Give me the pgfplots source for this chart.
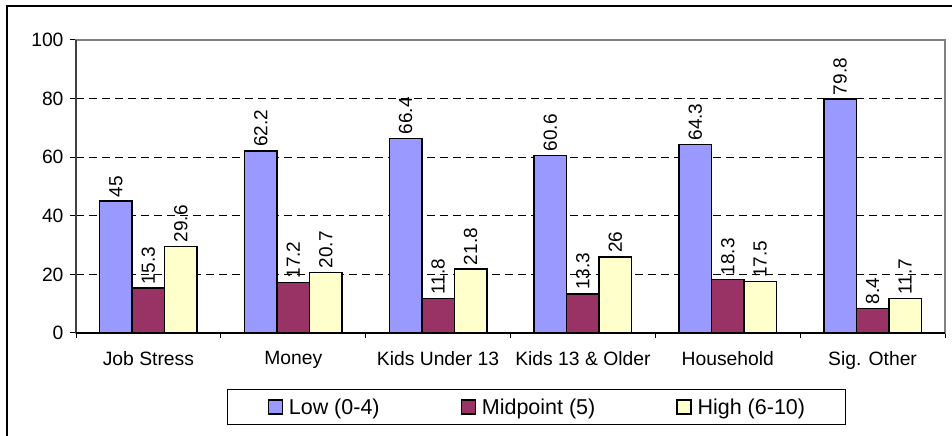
\documentclass[border=0pt]{standalone}
\usepackage{fontspec}
\setmainfont{Liberation Sans}
\usepackage{pgfplots}
\pgfplotsset{compat=1.18}
\definecolor{lowc}{RGB}{153,153,255}
\definecolor{midc}{RGB}{153,51,102}
\definecolor{highc}{RGB}{255,255,204}

\begin{document}
\begin{tikzpicture}
\useasboundingbox (0,0) rectangle (952bp,436bp);
% chart area border (cut off at right and bottom)
\draw[line width=1.5bp] (7bp,-2bp) -- (7bp,430bp) -- (954bp,430bp);
\begin{axis}[
    at={(76bp,103bp)}, anchor=south west,
    scale only axis, width=869bp, height=293bp,
    ybar, bar width=0.2244,
    xmin=-0.5, xmax=5.5, ymin=0, ymax=100,
    xtick={0,...,5},
    xticklabels={Job Stress, Money, Kids Under 13, Kids 13 \& Older, Household, Sig. Other},
    minor xtick={-0.5,0.5,...,5.5},
    ytick={0,20,...,100},
    tick align=outside, xtick pos=bottom, ytick pos=left,
    major tick length=6bp, minor tick length=5bp,
    tick style={black, line width=1bp},
    major x tick style={draw=none},
    ymajorgrids,
    major grid style={black, line width=0.8bp, dash pattern=on 8bp off 5bp},
    axis line style={draw=gray, line width=1.2bp},
    ticklabel style={font=\fontsize{19.3bp}{23bp}\selectfont},
    yticklabel style={xshift=-3bp},
    xticklabel style={yshift=-9bp},
    /pgf/number format/assume math mode=true,
    nodes near coords,
    every node near coord/.append style={rotate=90, anchor=west, black,
        font=\fontsize{19bp}{22bp}\selectfont},
    legend columns=3,
    legend style={at={(0.5298,-0.2526)}, anchor=center, draw=black,
        line width=1.2bp, font=\fontsize{21.5bp}{25bp}\selectfont,
        inner xsep=40bp, inner ysep=9bp,
        nodes={inner sep=0pt}, cells={anchor=west},
        /tikz/every odd column/.style={column sep=6bp},
        /tikz/every even column/.style={column sep=81bp}},
    legend image code/.code={
        \draw[#1, draw=black, line width=1.2bp] (0bp,-7bp) rectangle (14bp,7bp);},
    after end axis/.code={
        \draw[gray, line width=1.2bp] (rel axis cs:0,1) -- (rel axis cs:1,1) -- (rel axis cs:1,0);
        \draw[black!75, line width=1.2bp] (rel axis cs:0,0) -- (rel axis cs:0,1);
        \draw[black, line width=1.3bp] (rel axis cs:0,0) -- (rel axis cs:1,0);
    },
]
\addplot[fill=lowc, draw=black, line width=1.5bp, bar shift=-0.2244] coordinates {
  (0,45) (1,62.2) (2,66.4) (3,60.6) (4,64.3) (5,79.8)
};
\addlegendentry{Low (0-4)}
\addplot[fill=midc, draw=black, line width=1.5bp, bar shift=0] coordinates {
  (0,15.3) (1,17.2) (2,11.8) (3,13.3) (4,18.3) (5,8.4)
};
\addlegendentry{Midpoint (5)}
\addplot[fill=highc, draw=black, line width=1.5bp, bar shift=0.2244] coordinates {
  (0,29.6) (1,20.7) (2,21.8) (3,26) (4,17.5) (5,11.7)
};
\addlegendentry{High (6-10)}
\end{axis}
\end{tikzpicture}
\end{document}
